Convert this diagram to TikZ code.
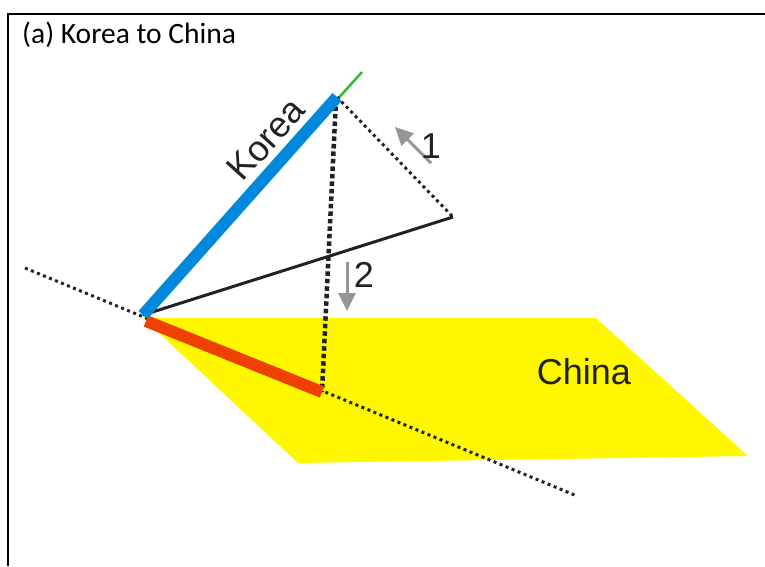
\documentclass[tikz,border=0pt]{standalone}
\usepackage{fontspec}
\setmainfont{Liberation Sans}
\newfontfamily\titlefont{Carlito}
\usetikzlibrary{arrows.meta}
\definecolor{kblue}{RGB}{0,136,221}
\definecolor{cred}{RGB}{238,64,0}
\definecolor{cyel}{RGB}{255,247,0}
\definecolor{hgreen}{RGB}{51,187,51}
\definecolor{agrey}{RGB}{150,150,150}
\definecolor{ink}{RGB}{34,34,34}
\tikzset{
  bigtext/.style={font=\fontsize{36}{36}\selectfont, text=ink, inner sep=0pt},
  finedots/.style={draw=ink, line width=3pt, dash pattern=on 3pt off 3.5pt},
  boxdots/.style={draw=ink, line width=4.5pt, dash pattern=on 4.5pt off 3pt},
  bar/.style={line width=12pt},
  greyarrow/.style={draw=agrey, line width=3pt, -{Triangle[length=18pt,width=17pt]}},
}
\begin{document}
\begin{tikzpicture}[x=1pt,y=-1pt]
\useasboundingbox (0,0) rectangle (765,566);
% frame
\draw[line width=2pt] (8,566) -- (8,14) -- (765,14);
\node[anchor=base west, font=\titlefont\fontsize{29.5}{29.5}\selectfont, inner sep=0pt] (title) at (22,43) {(a) Korea to China};
% points
\coordinate (H) at (143,315);
\coordinate (H2) at (146,321);
\coordinate (HL) at (25,268);
\coordinate (LE) at (577,496);
\coordinate (T) at (337,97);
\coordinate (G) at (362,72);
\coordinate (R) at (322,392);
\coordinate (P) at (453,217);
% China plane
\fill[cyel] (143,318) -- (596,318) -- (748,456) -- (298,463) -- cycle;
\node[bigtext] (china) at (584,372) {China};
% hinge axis (dotted)
\draw[finedots] (HL) -- (LE);
% hinge green
\draw[hgreen, line width=2.5pt] (H) -- (G);
% vertical dotted projection
\draw[boxdots] (336,99) -- (R);
% red projected bar
\draw[cred, bar] (H2) -- (R);
% black line
\draw[ink, line width=3pt] (H) -- (P);
% fine dotted back
\draw[finedots] (T) -- (P);
% blue bar
\draw[kblue, bar] (H) -- (T);
\node[bigtext, rotate=48] (korea) at (266,139) {Korea};
% arrows
\coordinate (a1s) at (431,163);
\coordinate (a1e) at (395,127);
\draw[greyarrow] (a1s) -- (a1e);
\node[bigtext] (one) at (431,146) {1};
\coordinate (a2s) at (347,262);
\coordinate (a2e) at (347,311);
\draw[greyarrow] (a2s) -- (a2e);
\node[bigtext] (two) at (364,275) {2};
\end{tikzpicture}
\end{document}
